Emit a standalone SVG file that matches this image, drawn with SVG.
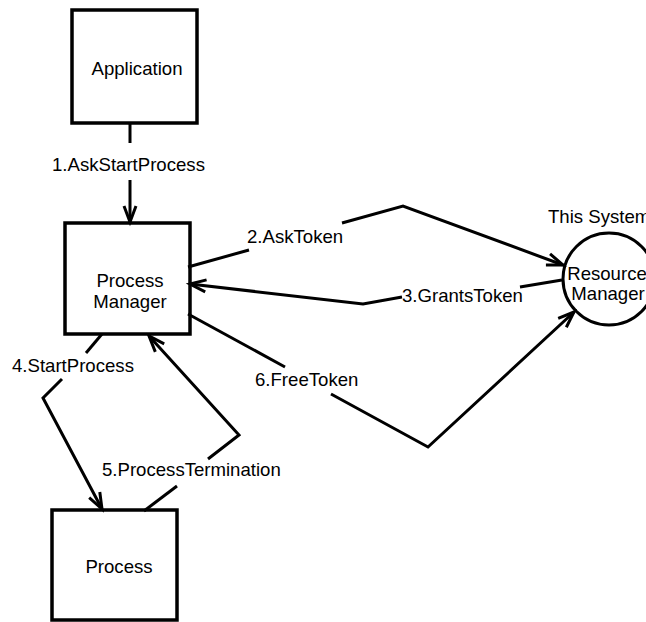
<svg xmlns="http://www.w3.org/2000/svg" width="646" height="622" viewBox="0 0 646 622">
  <style>
    .box { fill: #fff; stroke: #000; stroke-width: 3.5; }
    .node-label { font-family: "Liberation Sans", Arial, sans-serif; font-size: 18.6px; fill: #000; text-anchor: middle; }
    .edge { fill: none; stroke: #000; stroke-width: 3; stroke-linejoin: miter; }
    .edge-label { font-family: "Liberation Sans", Arial, sans-serif; font-size: 18.6px; fill: #000; }
  </style>
  <defs>
    <marker id="open-arrow" viewBox="-20 -10 24 20" refX="0" refY="0" markerWidth="24" markerHeight="20" markerUnits="userSpaceOnUse" orient="auto" overflow="visible">
      <path d="M -16,-6 L 0,0 L -16,6" fill="none" stroke="#000" stroke-width="3"/>
    </marker>
  </defs>

  <rect width="646" height="622" fill="#fff"/>

  <g id="application">
    <rect class="box" x="72" y="10" width="125" height="113"/>
    <text class="node-label" x="137" y="75">Application</text>
  </g>

  <g id="process-manager">
    <rect class="box" x="65" y="223" width="125" height="111"/>
    <text class="node-label" x="130" y="287">Process</text>
    <text class="node-label" x="130" y="308">Manager</text>
  </g>

  <g id="resource-manager">
    <circle cx="609" cy="279" r="46" fill="#fff" stroke="#000" stroke-width="3"/>
    <text class="edge-label" x="548" y="223">This System</text>
    <text class="node-label" x="607" y="280">Resource</text>
    <text class="node-label" x="608" y="300">Manager</text>
  </g>

  <g id="process">
    <rect class="box" x="52" y="510" width="125" height="110"/>
    <text class="node-label" x="119" y="573">Process</text>
  </g>

  <g id="connectors">
    <!-- 1: Application -> Process Manager -->
    <polyline class="edge" points="130,123 130,143"/>
    <polyline class="edge" points="130,180 130,222" marker-end="url(#open-arrow)"/>
    <text class="edge-label" x="52" y="171">1.AskStartProcess</text>

    <!-- 2: Process Manager -> Resource Manager -->
    <polyline class="edge" points="188,267 249,250"/>
    <polyline class="edge" points="342,223 403,206 563,265" marker-end="url(#open-arrow)"/>
    <text class="edge-label" x="247" y="243">2.AskToken</text>

    <!-- 3: Resource Manager -> Process Manager -->
    <polyline class="edge" points="562,280 520,287"/>
    <polyline class="edge" points="402,297 363,304 190,284" marker-end="url(#open-arrow)"/>
    <text class="edge-label" x="402" y="302">3.GrantsToken</text>

    <!-- 4: Process Manager -> Process -->
    <polyline class="edge" points="102,334 86,353"/>
    <polyline class="edge" points="62,379 43,398 102,509" marker-end="url(#open-arrow)"/>
    <text class="edge-label" x="12" y="372">4.StartProcess</text>

    <!-- 5: Process -> Process Manager -->
    <polyline class="edge" points="144,511 177,486"/>
    <polyline class="edge" points="208,459 239,435 149,336" marker-end="url(#open-arrow)"/>
    <text class="edge-label" x="102" y="476">5.ProcessTermination</text>

    <!-- 6: Process Manager -> Resource Manager -->
    <polyline class="edge" points="188,314 285,367"/>
    <polyline class="edge" points="331,394 428,447 574,312" marker-end="url(#open-arrow)"/>
    <text class="edge-label" x="255" y="386">6.FreeToken</text>
  </g>
</svg>
